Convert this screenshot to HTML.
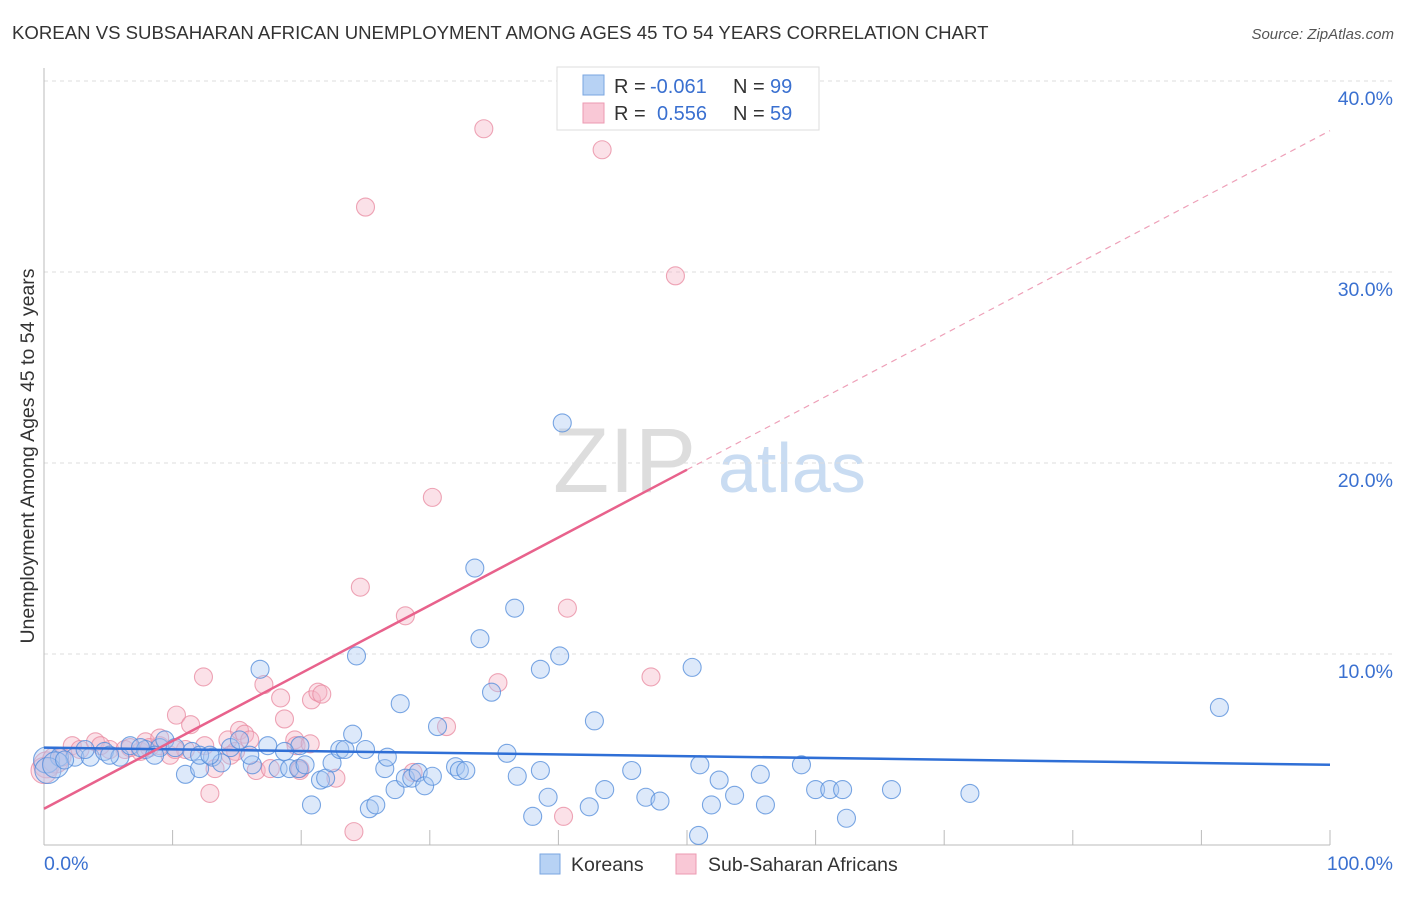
<!DOCTYPE html>
<html><head><meta charset="utf-8"><style>
body{margin:0;background:#fff;font-family:"Liberation Sans",sans-serif}
svg text{font-family:"Liberation Sans",sans-serif}
</style></head><body>
<svg id="c" width="1406" height="892" xmlns="http://www.w3.org/2000/svg">
<text x="12" y="39" font-size="18.6" fill="#333">KOREAN VS SUBSAHARAN AFRICAN UNEMPLOYMENT AMONG AGES 45 TO 54 YEARS CORRELATION CHART</text>
<text x="1394" y="39" font-size="15" font-style="italic" fill="#555" text-anchor="end">Source: ZipAtlas.com</text>
<g>
<text x="553" y="492" font-size="92" font-family="Liberation Serif,serif" fill="#ddd">ZIP</text>
<text x="718" y="492" font-size="70" fill="#c9dcf2">atlas</text>
</g>
<g id="grid"></g>
<g id="axes"></g>
<g id="marks"></g>
<text transform="translate(34,456) rotate(-90)" font-size="19.5" fill="#333" text-anchor="middle">Unemployment Among Ages 45 to 54 years</text>
<text x="44" y="870" font-size="19.5" fill="#3a70d0">0.0%</text>
<text x="1393" y="870" font-size="19.5" fill="#3a70d0" text-anchor="end">100.0%</text>
<g>
<rect x="557" y="67" width="262" height="63" fill="#fff" stroke="#ddd"/>
<rect x="583" y="75" width="21" height="20" fill="#b7d2f4" stroke="#7aa6e0"/>
<rect x="583" y="103" width="21" height="20" fill="#f9c8d6" stroke="#ec9ab2"/>
<text x="614" y="93" font-size="20" fill="#333">R =</text>
<text x="650" y="93" font-size="20" fill="#3a70d0">-0.061</text>
<text x="733" y="93" font-size="20" fill="#333">N =</text>
<text x="770" y="93" font-size="20" fill="#3a70d0">99</text>
<text x="614" y="120" font-size="20" fill="#333">R =</text>
<text x="657" y="120" font-size="20" fill="#3a70d0">0.556</text>
<text x="733" y="120" font-size="20" fill="#333">N =</text>
<text x="770" y="120" font-size="20" fill="#3a70d0">59</text>
</g>
<g>
<rect x="540" y="854" width="20" height="20" fill="#b7d2f4" stroke="#7aa6e0"/>
<text x="571" y="871" font-size="19.5" fill="#333">Koreans</text>
<rect x="676" y="854" width="20" height="20" fill="#f9c8d6" stroke="#ec9ab2"/>
<text x="708" y="871" font-size="19.5" fill="#333">Sub-Saharan Africans</text>
</g>
</svg>
<script>
const yTicks=[10,20,30,40];
const yTickLabels=["10.0%","20.0%","30.0%","40.0%"];
const xTicks=[10,20,30,40,50,60,70,80,90,100];
const koreanX=[0.2,1.2,2.4,3.6,4.7,5.9,6.7,7.9,9.0,9.4,10.2,11.0,11.5,12.1,13.1,13.8,14.5,15.2,16.2,16.8,17.4,18.2,19.1,19.8,19.9,20.3,20.8,21.5,21.9,22.4,23.0,23.4,24.0,24.3,25.0,25.3,25.8,26.5,26.7,27.3,27.7,28.1,28.6,29.1,29.6,30.2,30.6,32.0,32.3,32.8,33.5,33.9,34.8,36.0,36.6,36.8,38.0,38.6,38.6,39.2,40.1,40.3,42.4,42.8,43.6,45.7,46.8,47.9,50.4,50.9,51.0,51.9,52.5,53.7,55.7,56.1,58.9,60.0,61.1,62.1,62.4,65.9,72.0,91.4,0.3,0.9,1.6,3.2,5.1,7.5,8.6,12.1,16.0,18.7,12.9];
const koreanY=[4.45,4.6,4.6,4.6,4.9,4.6,5.2,5.0,5.1,5.5,5.1,3.7,4.9,4.0,4.6,4.3,5.1,5.5,4.2,9.2,5.2,4.0,4.0,4.0,5.2,4.2,2.1,3.4,3.5,4.3,5.0,5.0,5.8,9.9,5.0,1.9,2.1,4.0,4.6,2.9,7.4,3.5,3.5,3.8,3.1,3.6,6.2,4.1,3.9,3.9,14.5,10.8,8.0,4.8,12.4,3.6,1.5,3.9,9.2,2.5,9.9,22.1,2.0,6.5,2.9,3.9,2.5,2.3,9.3,0.5,4.2,2.1,3.4,2.6,3.7,2.1,4.2,2.9,2.9,2.9,1.4,2.9,2.7,7.2,3.9,4.2,4.45,5.0,4.7,5.1,4.7,4.7,4.7,4.9,4.7];
const africanX=[0.2,0.9,1.4,2.2,2.8,4.0,5.1,6.3,7.5,7.9,8.2,9.8,10.3,11.4,12.4,12.9,13.3,14.3,14.9,15.2,15.6,16.0,16.5,17.1,17.6,18.4,18.7,19.5,19.6,19.9,20.7,20.8,21.3,21.6,22.7,24.1,24.6,25.0,28.1,28.7,30.2,31.3,34.2,35.3,40.4,40.7,43.4,47.2,49.1,0.0,4.4,6.7,9.0,11.0,12.5,9.0,19.9,10.2,14.5];
const africanY=[4.2,4.45,4.6,5.2,5.0,5.4,5.0,5.0,4.9,5.4,5.1,4.7,6.8,6.3,8.8,2.7,4.0,5.5,4.9,6.0,5.8,5.5,3.9,8.4,4.0,7.7,6.6,5.5,5.2,4.0,5.3,7.6,8.0,7.9,3.5,0.7,13.5,33.4,12.0,3.8,18.2,6.2,37.5,8.5,1.5,12.4,36.4,8.8,29.8,3.9,5.2,5.1,5.2,5.0,5.2,5.6,3.9,5.0,4.7];
const koreanTrend=[5.1,4.2];
const africanTrend=[1.9,37.4];

const X0=44,X1=1330,Y0=845,PY=19.1;
const sx=v=>X0+(X1-X0)*v/100;
const sy=v=>Y0-v*PY;
const NS="http://www.w3.org/2000/svg";
function mk(tag,attrs,parent){const e=document.createElementNS(NS,tag);for(const k in attrs)e.setAttribute(k,attrs[k]);parent.appendChild(e);return e;}
const grid=document.getElementById('grid'),axes=document.getElementById('axes'),marks=document.getElementById('marks');
yTicks.forEach((t,i)=>{
 const l=mk('line',{x1:44,x2:1395,y1:sy(t),y2:sy(t),stroke:'#ddd','stroke-dasharray':'4,4'},grid);
 
 
 const tx=mk('text',{x:1393,y:sy(t)+24,'font-size':19.5,fill:'#3a70d0','text-anchor':'end'},grid);
 tx.textContent=yTickLabels[i];
 
 
});
const la=mk('line',{x1:44,x2:44,y1:68,y2:845,stroke:'#bbb'},axes);


const ba=mk('line',{x1:44,x2:1330,y1:845,y2:845,stroke:'#bbb'},axes);


xTicks.forEach(t=>{
 const l=mk('line',{x1:sx(t),x2:sx(t),y1:830,y2:845,stroke:'#bbb'},axes);
 
 
});
function pts(xs,ys,fill,stroke,name){
 xs.forEach((x,i)=>{
  const r=(x<1)?13:9;
  const c=mk('circle',{cx:sx(x),cy:sy(ys[i]),r:r,fill:fill,'fill-opacity':0.4,stroke:stroke,'stroke-opacity':0.75,'stroke-width':1.1},marks);
  
  
 });
}
pts(africanX,africanY,'#f5b3c6','#e8889f','subsaharan-point');
pts(koreanX,koreanY,'#a9c9f2','#4f8ad9','korean-point');
const kt=mk('line',{x1:sx(0),y1:sy(koreanTrend[0]),x2:sx(100),y2:sy(koreanTrend[1]),stroke:'#2f6fd6','stroke-width':2.5},marks);


const am=africanTrend[0]+(africanTrend[1]-africanTrend[0])*0.5;
const at=mk('line',{x1:sx(0),y1:sy(africanTrend[0]),x2:sx(50),y2:sy(am),stroke:'#e8628c','stroke-width':2.5},marks);


const ad=mk('line',{x1:sx(50),y1:sy(am),x2:sx(100),y2:sy(africanTrend[1]),stroke:'#eea0b8','stroke-width':1.2,'stroke-dasharray':'6,5'},marks);


</script>
</body></html>
